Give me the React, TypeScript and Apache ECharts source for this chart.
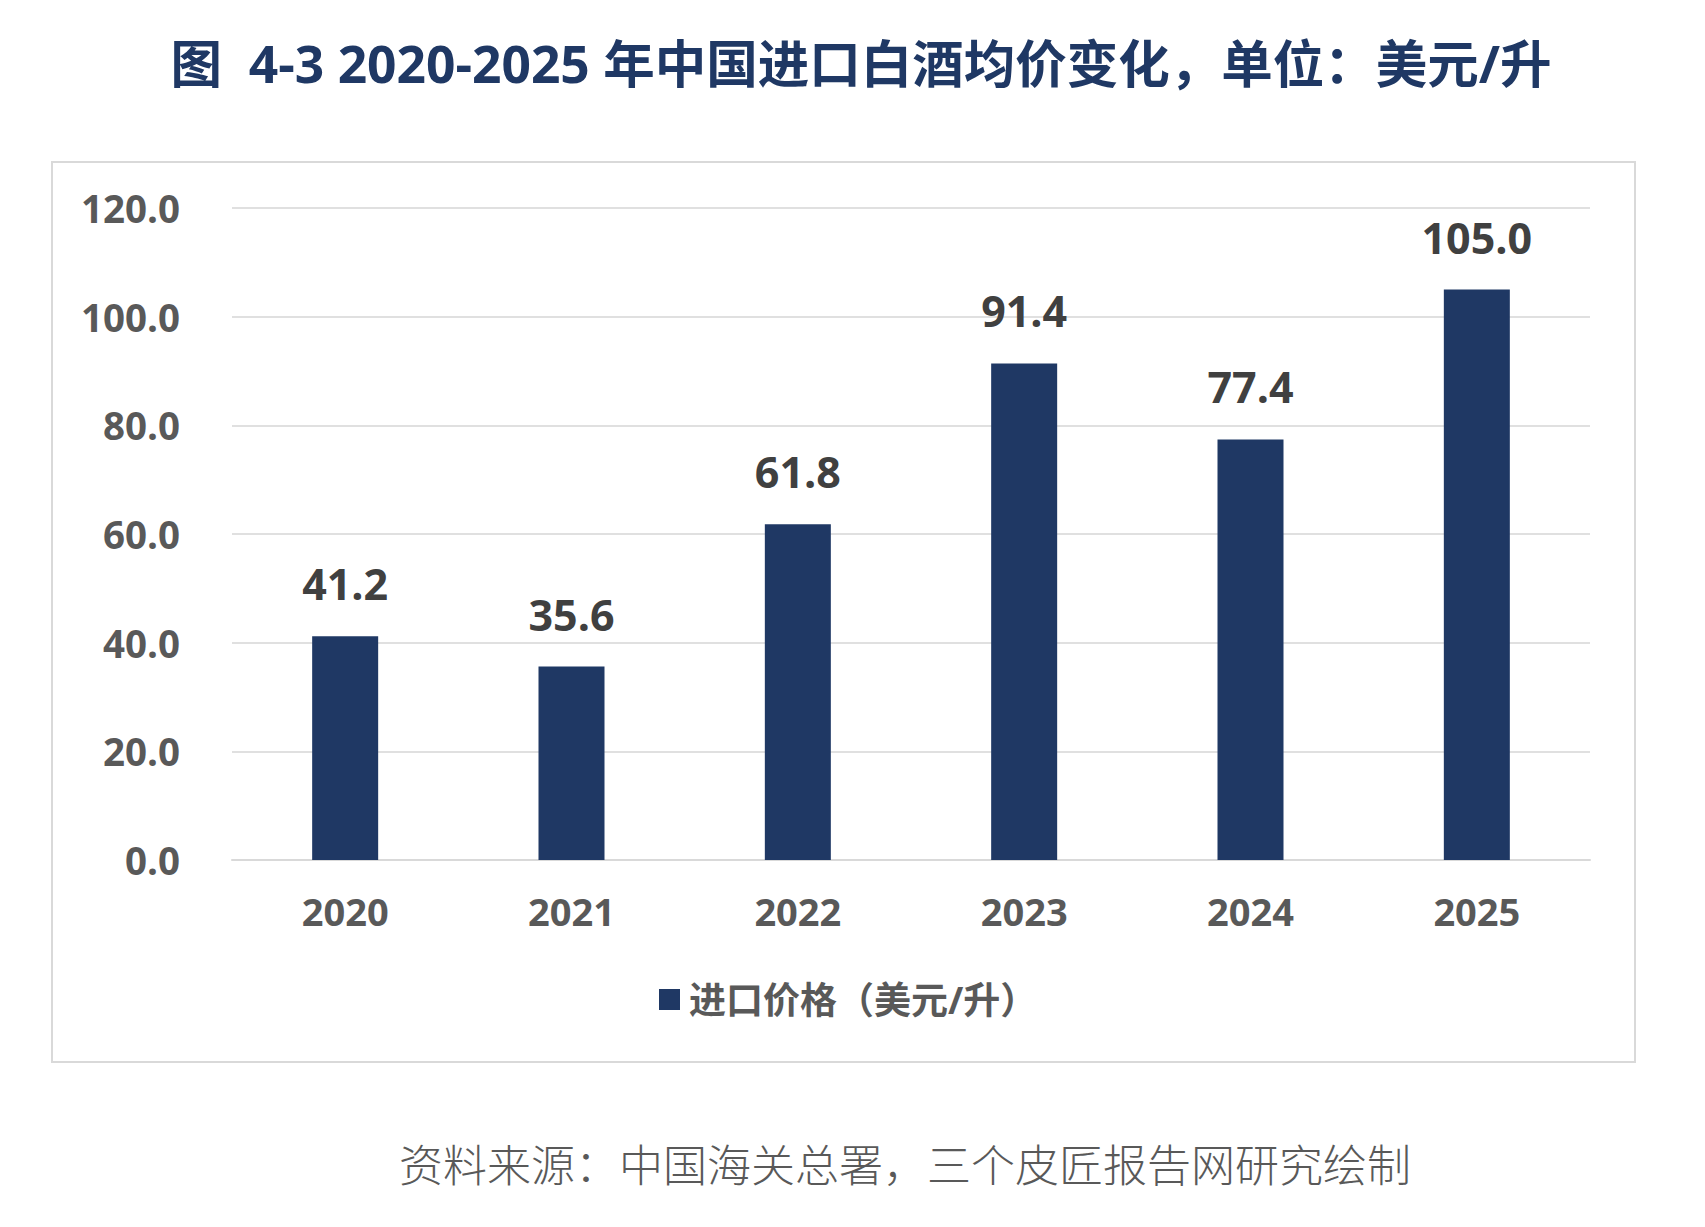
import React, { useEffect, useRef } from "react";
import * as echarts from "echarts";

// Average price of imported baijiu into China, USD per litre
const years = ["2020", "2021", "2022", "2023", "2024", "2025"];
const importPrice = [41.2, 35.6, 61.8, 91.4, 77.4, 105.0];
const yMin = 0;
const yMax = 120;
const yInterval = 20;

const seriesName = "进口价格（美元/升）";
const titleText = "图  4-3 2020-2025 年中国进口白酒均价变化，单位：美元/升";
const sourceText = "资料来源：中国海关总署，三个皮匠报告网研究绘制";

const NAVY = "#1f3864";
const GREY_TEXT = "#595959";
const DARK_TEXT = "#404040";
const LINE_GREY = "#d9d9d9";
const FONT = "'Open Sans', 'Noto Sans CJK SC', sans-serif";

export default function App() {
  const ref = useRef<HTMLDivElement>(null);

  useEffect(() => {
    if (!ref.current) return;
    const chart = echarts.init(ref.current, undefined, { renderer: "svg" });
    chart.setOption({
      animation: false,
      backgroundColor: "#ffffff",
      textStyle: { fontFamily: FONT },
      graphic: [
        {
          type: "rect",
          shape: { x: 52, y: 162, width: 1583, height: 900 },
          style: { fill: "none", stroke: LINE_GREY, lineWidth: 2 },
          z: -1,
        },
        {
          type: "text",
          x: 861,
          y: 63,
          style: {
            text: titleText,
            fontFamily: FONT,
            fontSize: 51.5,
            fontWeight: "bold",
            fill: NAVY,
            align: "center",
            verticalAlign: "middle",
            textAlign: "center",
            textVerticalAlign: "middle",
          },
        },
        {
          type: "text",
          x: 905,
          y: 1163,
          style: {
            text: sourceText,
            fontFamily: "'Noto Sans CJK SC', sans-serif",
            fontSize: 44,
            fontWeight: 300,
            fill: GREY_TEXT,
            align: "center",
            verticalAlign: "middle",
            textAlign: "center",
            textVerticalAlign: "middle",
          },
        },
      ],
      legend: {
        data: [seriesName],
        left: 654,
        top: 976,
        icon: "rect",
        itemWidth: 21,
        itemHeight: 21,
        textStyle: {
          fontFamily: FONT,
          fontSize: 37,
          fontWeight: "bold",
          color: GREY_TEXT,
          padding: [0, 0, 0, 4],
        },
      },
      grid: { left: 232, right: 115, top: 208, bottom: 367, containLabel: false },
      xAxis: {
        type: "category",
        data: years,
        axisLine: { show: true, lineStyle: { color: LINE_GREY, width: 2 } },
        axisTick: { show: false },
        axisLabel: {
          margin: 32,
          fontFamily: FONT,
          fontSize: 38,
          fontWeight: "bold",
          color: GREY_TEXT,
        },
      },
      yAxis: {
        type: "value",
        min: yMin,
        max: yMax,
        interval: yInterval,
        axisLine: { show: false },
        axisTick: { show: false },
        splitLine: { lineStyle: { color: "#e0e0e0", width: 2 } },
        axisLabel: {
          margin: 52,
          fontFamily: FONT,
          fontSize: 38.5,
          fontWeight: "bold",
          color: GREY_TEXT,
          padding: [0, 0, 12, 0],
          formatter: (v: number) => v.toFixed(1),
        },
      },
      series: [
        {
          name: seriesName,
          type: "bar",
          data: importPrice,
          barWidth: 66,
          itemStyle: { color: NAVY },
          label: {
            show: true,
            position: "top",
            distance: 31,
            fontFamily: FONT,
            fontSize: 43,
            fontWeight: "bold",
            color: DARK_TEXT,
            formatter: (p: any) => Number(p.value).toFixed(1),
          },
        },
      ],
    });
    return () => chart.dispose();
  }, []);

  return (
    <div
      ref={ref}
      style={{ position: "fixed", left: 0, top: 0, width: 1705, height: 1227, background: "#fff" }}
    />
  );
}
